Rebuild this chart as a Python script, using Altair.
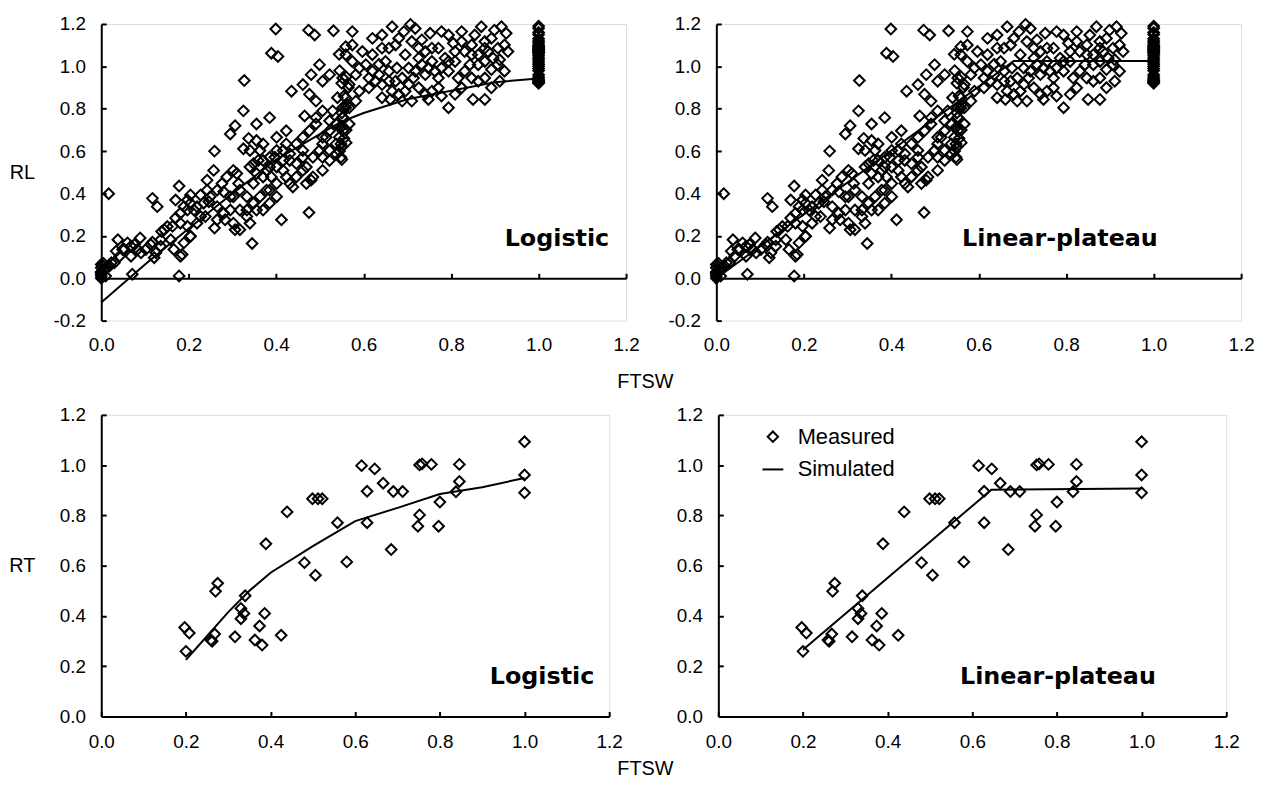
import altair as alt
import pandas as pd

# ---------------- data ----------------
# RL panels: measured points (FTSW, RL)
rl_ftsw = [0.017, 0.0, 0.0, 0.0, 0.0, 0.005, 0.01, 0.0, 0.038, 0.068, 0.089, 0.091, 0.071, 0.117, 0.121,
           0.117, 0.128, 0.138, 0.159, 0.166, 0.178, 0.178, 0.170, 0.185, 0.197, 0.204, 0.181, 0.227, 0.242,
           0.259, 0.257, 0.259, 0.219, 0.265, 0.283, 0.295, 0.306, 0.325, 0.327, 0.325, 0.337, 0.355, 0.345,
           0.306, 0.31, 0.295, 0.317, 0.348, 0.333, 0.370, 0.385, 0.389, 0.404, 0.399, 0.412, 0.397, 0.385,
           0.370, 0.416, 0.431, 0.435, 0.423, 0.431, 0.461, 0.465, 0.475, 0.474, 0.488, 0.531, 0.461, 0.476,
           0.491, 0.480, 0.499, 0.506, 0.522, 0.544, 0.559, 0.574, 0.552, 0.540, 0.559, 0.491, 0.506, 0.522,
           0.537, 0.522, 0.506, 0.480, 0.461, 0.446, 0.416, 0.385, 0.359, 0.401, 0.552, 0.567, 0.280, 0.246,
           0.238, 0.204, 0.151, 0.136, 0.053, 0.023, 0.011,
           0.0, 0.0, 0.008, 0.004, 0.019, 0.030, 0.042, 0.034, 0.049, 0.060, 0.076, 0.083, 0.068, 0.102,
           0.113, 0.125, 0.136, 0.144, 0.163, 0.170, 0.181, 0.189, 0.197, 0.204, 0.212, 0.219, 0.204, 0.189,
           0.181, 0.197, 0.227, 0.234, 0.242, 0.249, 0.265, 0.276, 0.287, 0.302, 0.314, 0.302, 0.295, 0.280,
           0.265, 0.302, 0.317, 0.333, 0.348, 0.355, 0.340, 0.370, 0.378, 0.389, 0.401, 0.416, 0.431, 0.423,
           0.401, 0.385, 0.363, 0.355, 0.340, 0.446, 0.461, 0.469, 0.484, 0.499, 0.506, 0.514, 0.522, 0.537,
           0.544, 0.552, 0.529, 0.506, 0.491, 0.476, 0.461, 0.446, 0.506, 0.522, 0.537, 0.484, 0.469, 0.438,
           0.423, 0.401, 0.378, 0.363, 0.348, 0.333, 0.317, 0.340, 0.355, 0.370, 0.385, 0.401,
           0.665, 0.707, 0.718, 0.752, 0.778, 0.692, 0.680, 0.733, 0.756, 0.805, 0.824, 0.869, 0.899, 0.915,
           0.926, 0.854, 0.892, 0.847, 0.877, 0.862, 0.843, 0.896, 0.911, 0.892, 0.877, 0.892, 0.911, 0.877,
           0.850, 0.794, 0.778, 0.748, 0.688, 0.661, 0.680, 0.726, 0.756, 0.824, 0.816, 0.794, 0.771, 0.741,
           0.714, 0.703, 0.676, 0.658, 0.635, 0.612, 0.582, 0.567, 0.559, 0.552, 0.620, 0.642, 0.597, 0.650,
           0.695, 0.726, 0.756, 0.786, 0.809, 0.726, 0.771, 0.673, 0.635, 0.548, 0.548, 0.548, 0.552,
           0.559, 0.574, 0.590, 0.605, 0.620, 0.627, 0.642, 0.658, 0.673, 0.688, 0.703, 0.718, 0.733, 0.748,
           0.763, 0.778, 0.794, 0.809, 0.831, 0.847, 0.862, 0.877, 0.884, 0.907, 0.922, 0.930, 0.831, 0.847,
           0.862, 0.809, 0.771, 0.741, 0.710, 0.695, 0.665, 0.642, 0.612, 0.590, 0.567, 0.582, 0.574, 0.620,
           0.642, 0.658, 0.710, 0.741, 0.794, 0.824, 0.877, 0.907, 0.922,
           0.55, 0.555, 0.56, 0.55, 0.56, 0.555, 0.565, 0.55, 0.56, 0.545, 0.55, 0.545, 0.56,
           1.0, 1.0, 1.0, 1.0, 1.0, 1.0, 1.0, 1.0, 1.0, 1.0, 1.0, 1.0, 1.0, 1.0, 1.0, 1.0,
           1.0, 1.0, 1.0, 1.0, 1.0, 1.0, 1.0, 1.0, 1.0, 1.0, 1.0, 1.0, 1.0, 1.0, 1.0]
rl_value = [0.399, 0.03, 0.0, 0.02, 0.05, 0.07, 0.01, 0.065, 0.182, 0.151, 0.19, 0.12, 0.019, 0.170, 0.097,
            0.377, 0.338, 0.221, 0.182, 0.136, 0.435, 0.011, 0.369, 0.112, 0.322, 0.198, 0.26, 0.393, 0.463,
            0.600, 0.509, 0.237, 0.338, 0.338, 0.276, 0.681, 0.72, 0.79, 0.933, 0.611, 0.66, 0.728, 0.164,
            0.229, 0.494, 0.385, 0.416, 0.541, 0.322, 0.634, 0.758, 1.062, 1.047, 1.176, 0.276, 0.571, 0.416,
            0.478, 0.509, 0.447, 0.883, 0.696, 0.556, 0.603, 0.766, 0.310, 1.171, 1.148, 1.168, 0.914, 0.868,
            0.836, 0.961, 1.008, 0.930, 0.961, 1.057, 1.093, 1.101, 0.945, 0.852, 0.805, 0.728, 0.665, 0.743,
            0.634, 0.556, 0.509, 0.463, 0.509, 0.478, 0.603, 0.525, 0.556, 0.665, 0.696, 0.728, 0.408, 0.361,
            0.291, 0.354, 0.244, 0.151, 0.136, 0.073, 0.05,
            0.011, 0.027, 0.042, 0.058, 0.058, 0.073, 0.104, 0.128, 0.136, 0.167, 0.159, 0.136, 0.104, 0.136,
            0.159, 0.120, 0.182, 0.229, 0.245, 0.284, 0.307, 0.338, 0.369, 0.393, 0.322, 0.260, 0.198, 0.167,
            0.104, 0.245, 0.291, 0.354, 0.416, 0.385, 0.416, 0.447, 0.478, 0.509, 0.447, 0.385, 0.322, 0.307,
            0.276, 0.260, 0.322, 0.385, 0.447, 0.494, 0.525, 0.556, 0.509, 0.478, 0.525, 0.556, 0.587, 0.634,
            0.603, 0.571, 0.603, 0.650, 0.603, 0.541, 0.571, 0.525, 0.571, 0.603, 0.634, 0.665, 0.696, 0.728,
            0.665, 0.758, 0.790, 0.790, 0.758, 0.696, 0.665, 0.634, 0.571, 0.603, 0.587, 0.478, 0.447, 0.431,
            0.478, 0.447, 0.416, 0.385, 0.354, 0.291, 0.229, 0.260, 0.322, 0.322, 0.354, 0.385,
            1.187, 1.198, 1.179, 1.156, 1.164, 1.164, 1.132, 1.125, 1.086, 1.109, 1.117, 1.187, 1.171, 1.187,
            1.156, 1.148, 1.132, 1.101, 1.086, 1.055, 1.008, 1.039, 1.031, 0.985, 0.945, 0.899, 0.930, 0.844,
            0.844, 0.805, 0.860, 0.844, 0.836, 0.844, 0.868, 0.899, 0.883, 0.899, 0.945, 0.977, 0.945, 0.961,
            0.945, 0.992, 0.992, 0.977, 0.961, 0.945, 0.961, 0.914, 0.852, 0.805, 1.055, 1.086, 1.070, 1.023,
            1.055, 1.039, 1.023, 1.039, 1.023, 1.086, 1.086, 1.101, 1.01, 0.712, 0.634, 0.571, 0.76,
            1.055, 1.023, 0.992, 1.008, 0.977, 0.930, 0.914, 0.930, 0.930, 0.945, 0.914, 0.977, 1.008, 0.992,
            0.977, 0.992, 1.023, 1.070, 1.070, 1.055, 1.008, 1.023, 1.070, 1.086, 1.101, 1.070, 0.977, 0.945,
            0.930, 0.868, 0.899, 0.868, 0.836, 0.883, 0.883, 0.852, 0.899, 0.883, 0.805, 0.836, 1.164, 1.132,
            1.148, 1.086, 1.117, 1.070, 1.148, 1.164, 1.117, 1.008, 0.977,
            0.62, 0.66, 0.70, 0.78, 0.82, 0.86, 0.90, 0.92, 0.95, 0.98, 0.56, 0.60, 0.64,
            1.19, 1.15, 1.12, 1.11, 1.10, 1.09, 1.08, 1.07, 1.05, 1.03, 1.01, 0.98, 0.95, 0.94, 0.93, 0.92,
            1.18, 1.16, 1.13, 1.095, 1.085, 1.075, 1.065, 1.06, 1.04, 1.02, 1.0, 0.99, 0.96, 0.935, 0.925]

# RT panels: measured points (FTSW, RT)
rt_ftsw = [0.197, 0.208, 0.200, 0.259, 0.262, 0.268, 0.275, 0.270, 0.316, 0.330, 0.330, 0.337, 0.340, 0.363,
           0.374, 0.380, 0.386, 0.389, 0.425, 0.439, 0.480, 0.499, 0.512, 0.522, 0.506, 0.558, 0.580, 0.615,
           0.646, 0.628, 0.628, 0.666, 0.690, 0.712, 0.685, 0.752, 0.758, 0.780, 0.752, 0.748, 0.800, 0.797,
           0.846, 0.846, 0.838, 1.000, 1.000, 1.000]
rt_value = [0.354, 0.332, 0.259, 0.304, 0.299, 0.328, 0.530, 0.498, 0.317, 0.430, 0.389, 0.410, 0.480, 0.304,
            0.360, 0.284, 0.410, 0.687, 0.323, 0.814, 0.612, 0.866, 0.866, 0.866, 0.562, 0.771, 0.615, 0.998,
            0.985, 0.896, 0.771, 0.928, 0.895, 0.895, 0.664, 1.001, 1.005, 1.003, 0.802, 0.757, 0.853, 0.757,
            1.003, 0.935, 0.894, 1.093, 0.961, 0.890]

# simulated curves
rl_log_x = [0.0, 0.05, 0.1, 0.2, 0.3, 0.4, 0.5, 0.55, 0.6, 0.7, 0.8, 0.9, 1.0]
rl_log_y = [-0.115, -0.025, 0.065, 0.235, 0.40, 0.56, 0.68, 0.74, 0.78, 0.845, 0.885, 0.925, 0.943]
rl_lp_x = [0.0, 0.68, 1.0]
rl_lp_y = [0.0, 1.025, 1.025]
rt_log_x = [0.2, 0.25, 0.3, 0.35, 0.4, 0.5, 0.6, 0.7, 0.8, 0.9, 1.0]
rt_log_y = [0.225, 0.32, 0.415, 0.50, 0.572, 0.678, 0.777, 0.83, 0.885, 0.912, 0.949]
rt_lp_x = [0.2, 0.645, 1.0]
rt_lp_y = [0.265, 0.902, 0.907]

x_ticks = [0.0, 0.2, 0.4, 0.6, 0.8, 1.0, 1.2]
rl_ticks = [-0.2, 0.0, 0.2, 0.4, 0.6, 0.8, 1.0, 1.2]
rt_ticks = [0.0, 0.2, 0.4, 0.6, 0.8, 1.0, 1.2]

FONT = "Liberation Sans"
LABEL_EXPR = "replace(format(datum.value, '.1f'), '\u2212', '-')"

rl_df = pd.DataFrame({"FTSW": rl_ftsw, "val": rl_value, "series": "Measured"})
rt_df = pd.DataFrame({"FTSW": rt_ftsw, "val": rt_value, "series": "Measured"})


def panel(meas, fx, fy, ydom, yticks, w, h, label, label_x, label_y,
          ytitle=None, xtitle=False, legend=False, xlab_pad=14, title_y=60):
    fit = pd.DataFrame({"FTSW": fx, "val": fy})
    xs = alt.Scale(domain=[0, 1.2], nice=False, zero=False)
    ys = alt.Scale(domain=ydom, nice=False, zero=False)
    zero_off = -(h * (ydom[1] - 0.0) / (ydom[1] - ydom[0]))

    x_axis = alt.Axis(values=x_ticks, labelExpr=LABEL_EXPR, domain=False, ticks=False, tickSize=0,
                      labelPadding=xlab_pad, labelFont=FONT, labelFontSize=19, labelColor="black",
                      grid=False, labelFlush=False,
                      title="FTSW" if xtitle else None, titleFont=FONT, titleFontSize=20,
                      titleFontWeight="normal", titleColor="black",
                      titleX=548, titleY=title_y, titleAlign="center", titleBaseline="middle")
    y_kwargs = dict(values=yticks, labelExpr=LABEL_EXPR, domain=True, domainColor="black",
                    domainWidth=2, ticks=False, tickSize=0, labelPadding=16, labelFont=FONT,
                    labelFontSize=19, labelColor="black", grid=False, labelFlush=False)
    if ytitle:
        y_axis = alt.Axis(title=ytitle, titleAngle=0, titleX=-80, titleY=h / 2, titleAlign="center",
                          titleBaseline="middle", titleFont=FONT, titleFontSize=20,
                          titleFontWeight="normal", titleColor="black", **y_kwargs)
    else:
        y_axis = alt.Axis(title=None, **y_kwargs)

    enc = dict(
        x=alt.X("FTSW:Q", scale=xs, axis=x_axis),
        y=alt.Y("val:Q", scale=ys, axis=y_axis),
    )
    if legend:
        enc["shape"] = alt.Shape(
            "series:N",
            scale=alt.Scale(domain=["Measured", "Simulated"], range=["diamond", "M-2,0H2"]),
            legend=alt.Legend(title=None, orient="none", legendX=44, legendY=11, padding=0,
                              symbolSize=110, symbolStrokeWidth=2, symbolStrokeColor="black",
                              symbolFillColor="transparent", labelFont=FONT, labelFontSize=22,
                              labelColor="black", labelOffset=14, rowPadding=11),
        )
    else:
        enc["shape"] = alt.value("diamond")

    pts = alt.Chart(meas).mark_point(filled=False, color="black", strokeWidth=2, size=115,
                                     opacity=1).encode(**enc)

    line = alt.Chart(fit).mark_line(color="black", strokeWidth=2).encode(
        x=alt.X("FTSW:Q", scale=xs,
                axis=alt.Axis(orient="top", offset=zero_off, values=x_ticks, labels=False,
                              ticks=True, tickSize=5, tickWidth=2, tickColor="black",
                              domain=True, domainColor="black", domainWidth=2, grid=False,
                              title=None)),
        y=alt.Y("val:Q", scale=ys,
                axis=alt.Axis(orient="right", offset=-w, values=yticks, labels=False,
                              ticks=True, tickSize=5, tickWidth=2, tickColor="black",
                              domain=False, grid=False, title=None)),
    )

    txt = alt.Chart(pd.DataFrame({"t": [label]})).mark_text(
        align="right", baseline="middle", font="DejaVu Sans", fontSize=24, fontWeight="bold",
        color="black").encode(text="t:N", x=alt.value(label_x), y=alt.value(label_y))

    return alt.layer(pts, line, txt).resolve_axis(x="independent", y="independent").properties(
        width=w, height=h)


TW, TH = 529, 299
BW, BH = 512, 304

tl = panel(rl_df, rl_log_x, rl_log_y, [-0.2, 1.2], rl_ticks, TW, TH, "Logistic", 512, 217,
           ytitle="RL", xtitle=True, xlab_pad=15, title_y=61)
tr = panel(rl_df, rl_lp_x, rl_lp_y, [-0.2, 1.2], rl_ticks, TW, TH, "Linear-plateau", 445, 217,
           xlab_pad=15)
bl = panel(rt_df, rt_log_x, rt_log_y, [0.0, 1.2], rt_ticks, BW, BH, "Logistic", 497, 264,
           ytitle="RT", xtitle=True, xlab_pad=16, title_y=53)
br = panel(rt_df, rt_lp_x, rt_lp_y, [0.0, 1.2], rt_ticks, BW, BH, "Linear-plateau", 441, 264,
           legend=True, xlab_pad=16)

top = alt.hconcat(tl, tr, spacing=91, bounds="flush").resolve_scale(
    shape="independent").resolve_legend(shape="independent")
bottom = alt.hconcat(bl, br, spacing=110, bounds="flush").resolve_scale(
    shape="independent").resolve_legend(shape="independent")
chart = alt.vconcat(top, bottom, spacing=13).resolve_scale(
    shape="independent").resolve_legend(shape="independent").properties(
    padding={"left": 0, "top": 3, "right": 5, "bottom": 5}).configure_view(
    stroke=None).configure(background="white")

chart.save("out.html", embed_options={"renderer": "svg", "actions": False})
